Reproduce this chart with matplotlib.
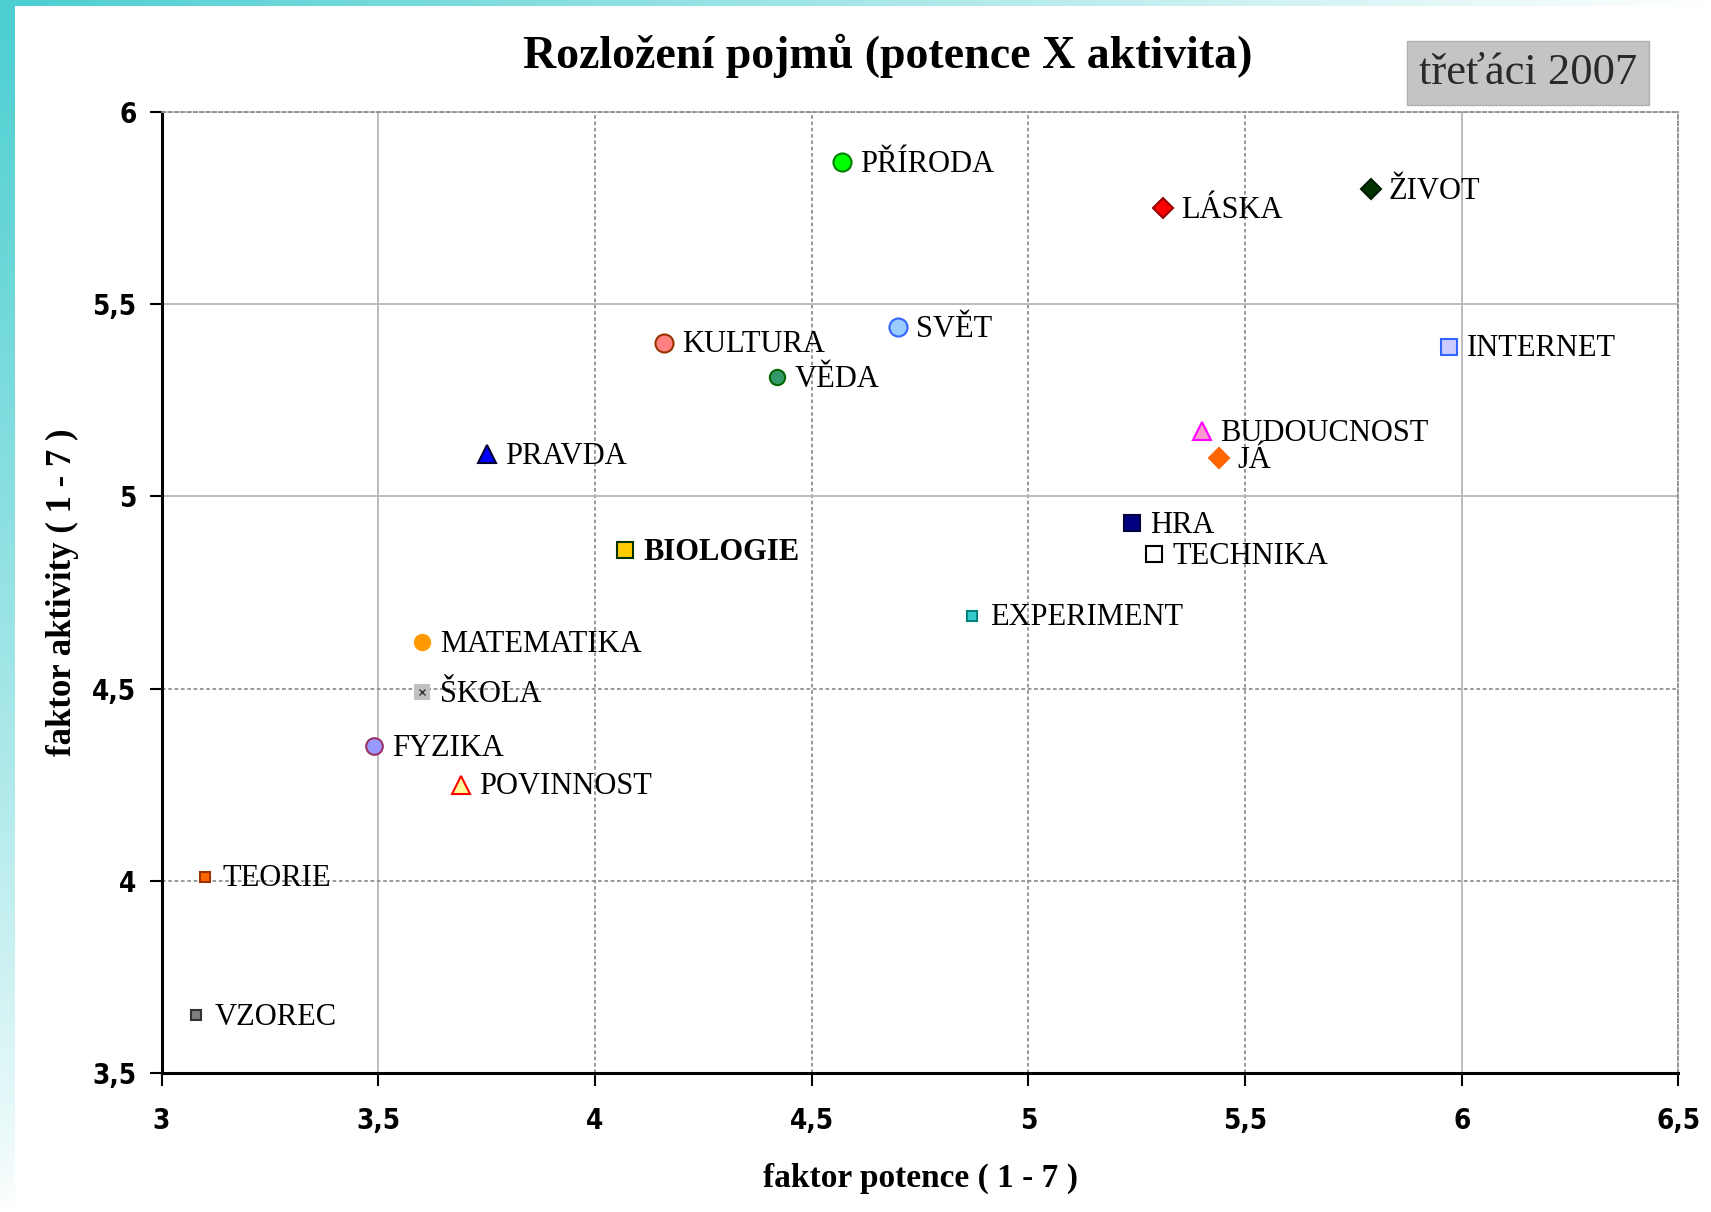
import matplotlib.pyplot as plt
import numpy as np

# pojmy a jejich souradnice (faktor potence, faktor aktivity)
pojmy = ['PŘÍRODA', 'LÁSKA', 'ŽIVOT', 'SVĚT', 'KULTURA', 'VĚDA', 'INTERNET',
         'PRAVDA', 'BUDOUCNOST', 'JÁ', 'HRA', 'TECHNIKA', 'BIOLOGIE',
         'EXPERIMENT', 'MATEMATIKA', 'ŠKOLA', 'FYZIKA', 'POVINNOST',
         'TEORIE', 'VZOREC']
potence = [4.57, 5.31, 5.79, 4.70, 4.16, 4.42, 5.97,
           3.75, 5.40, 5.44, 5.24, 5.29, 4.07,
           4.87, 3.60, 3.60, 3.49, 3.69,
           3.10, 3.08]
aktivita = [5.87, 5.75, 5.80, 5.44, 5.40, 5.31, 5.39,
            5.11, 5.17, 5.10, 4.93, 4.85, 4.86,
            4.69, 4.62, 4.49, 4.35, 4.25,
            4.01, 3.65]

# styl znacek (marker, vypln, okraj, velikost)
styly = [
    ('o', '#00ff00', '#008000', 13),
    ('D', '#ff0000', '#990000', 10),
    ('D', '#003300', '#001a00', 10),
    ('o', '#99ccff', '#3366ff', 13),
    ('o', '#ff8080', '#993300', 13),
    ('o', '#339966', '#006600', 11),
    ('s', '#ccccff', '#3366ff', 12),
    ('^', '#0000ff', '#000033', 13),
    ('^', '#ff99cc', '#ff00ff', 13),
    ('D', '#ff6600', '#ff6600', 10),
    ('s', '#000080', '#000040', 12),
    ('s', '#ffffff', '#000000', 11),
    ('s', '#ffcc00', '#003300', 12),
    ('s', '#33cccc', '#008080', 7),
    ('o', '#ff9900', '#ff9900', 11),
    ('s', '#c0c0c0', '#c0c0c0', 10),
    ('o', '#9999ff', '#993366', 12),
    ('^', '#ffff99', '#ff0000', 13),
    ('s', '#ff6600', '#993300', 7),
    ('s', '#808080', '#333333', 7),
]

xticks = [3, 3.5, 4, 4.5, 5, 5.5, 6, 6.5]
yticks = [3.5, 4, 4.5, 5, 5.5, 6]


def cz(v):
    return ('%g' % v).replace('.', ',')


fig = plt.figure(figsize=(17.11, 12.12), dpi=100)
fig.patch.set_facecolor('white')

# tyrkysovy okraj vlevo a nahore
teal = np.array([0.30, 0.81, 0.82])
white = np.array([1.0, 1.0, 1.0])
t = np.linspace(0, 1, 256)[:, None]
grad_v = (teal * (1 - t) ** 0.8 + white * (1 - (1 - t) ** 0.8))[:, None, :]
ax_l = fig.add_axes([0, 0, 15 / 1711, 1])
ax_l.imshow(grad_v, aspect='auto', extent=[0, 1, 0, 1], origin='upper')
ax_l.axis('off')
grad_h = (teal * (1 - t) + white * t).reshape(1, 256, 3)
ax_t = fig.add_axes([0, 1 - 6 / 1212, 1, 6 / 1212])
ax_t.imshow(grad_h, aspect='auto', extent=[0, 1, 0, 1])
ax_t.axis('off')

ax = fig.add_axes([0.0944, 0.115, 0.8866, 0.7923])
ax.set_xlim(3, 6.5)
ax.set_ylim(3.5, 6)

for x, y, name, (m, fc, ec, ms) in zip(potence, aktivita, pojmy, styly):
    ax.plot(x, y, marker=m, markerfacecolor=fc, markeredgecolor=ec,
            markersize=ms, markeredgewidth=1.5, linestyle='none', zorder=3)
    if name == 'ŠKOLA':
        ax.plot(x, y, marker='x', color='#333333', markersize=5,
                markeredgewidth=1, zorder=4)
    ax.annotate(name, (x, y), xytext=(13, -1.5), textcoords='offset points',
                va='center', ha='left', fontsize=22,
                family='Liberation Serif',
                fontweight='bold' if name == 'BIOLOGIE' else 'normal',
                zorder=5)

ax.set_xticks(xticks)
ax.set_xticklabels([cz(v) for v in xticks])
ax.set_yticks(yticks)
ax.set_yticklabels([cz(v) for v in yticks])
for lab in ax.get_xticklabels() + ax.get_yticklabels():
    lab.set_family(['DejaVu Sans'])
    lab.set_fontstretch('condensed')
    lab.set_fontweight('bold')
    lab.set_fontsize(20)
ax.tick_params(direction='out', length=9, width=1.5, pad=16)
ax.tick_params(axis='y', pad=9)

ax.grid(True, color='#b8b8b8', linewidth=1.3)
for i, gl in enumerate(ax.xaxis.get_gridlines()):
    gl.set_linestyle('-' if xticks[i] in (3.5, 6) else (0, (2, 1.5)))
    if xticks[i] not in (3.5, 6):
        gl.set_color('#909090')
for i, gl in enumerate(ax.yaxis.get_gridlines()):
    gl.set_linestyle('-' if yticks[i] in (5, 5.5) else (0, (2, 1.5)))
    if yticks[i] not in (5, 5.5):
        gl.set_color('#909090')
ax.set_axisbelow(True)

for s in ('left', 'bottom'):
    ax.spines[s].set_linewidth(2.2)
    ax.spines[s].set_color('black')
for s in ('top', 'right'):
    ax.spines[s].set_linewidth(1.3)
    ax.spines[s].set_color('#909090')
    ax.spines[s].set_linestyle((0, (2, 1.5)))

ax.set_xlabel('faktor potence ( 1 - 7 )', family='Liberation Serif',
              fontweight='bold', fontsize=24, labelpad=20)
ax.set_ylabel('faktor aktivity ( 1 - 7 )', family='Liberation Serif',
              fontweight='bold', fontsize=25, labelpad=10)

fig.text(0.5186, 0.954, 'Rozložení pojmů (potence X aktivita)',
         family='Liberation Serif', fontweight='bold', fontsize=33,
         ha='center', va='center')
fig.text(0.893, 0.9397, 'třeťáci 2007', family='Liberation Serif',
         fontsize=32, ha='center', va='center', color='#2a2a2a',
         bbox=dict(boxstyle='square,pad=0.27', facecolor='#c4c4c4',
                   edgecolor='#b0b0b0', linewidth=1))

fig.savefig('out.png', dpi=100, facecolor='white')
